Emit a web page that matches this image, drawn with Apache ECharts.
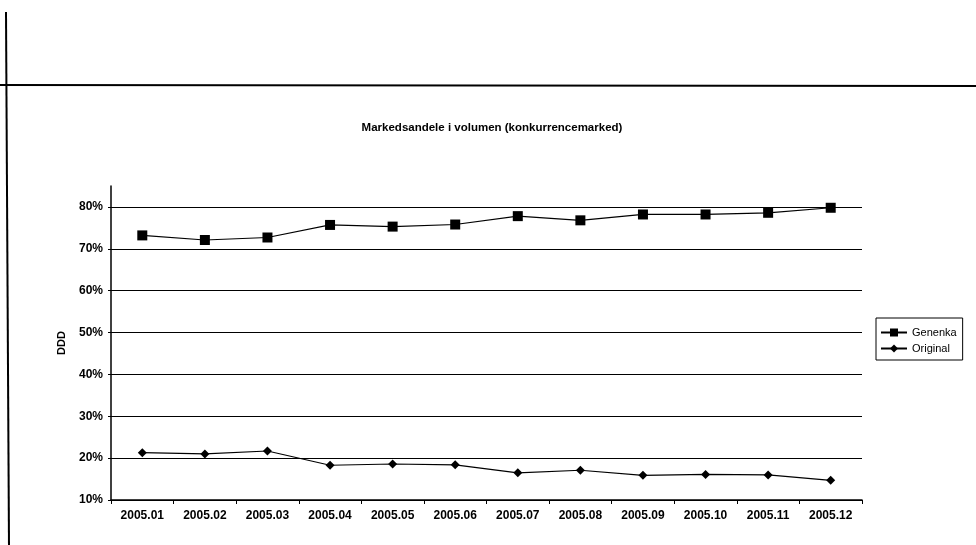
<!DOCTYPE html>
<html>
<head>
<meta charset="utf-8">
<script src="https://cdn.jsdelivr.net/npm/echarts@6/dist/echarts.min.js"></script>
<style>
  html, body { margin: 0; padding: 0; background: #fff; }
  #chart { width: 976px; height: 545px; }
</style>
</head>
<body>
<div id="chart"></div>
<script>
const months = ['2005.01','2005.02','2005.03','2005.04','2005.05','2005.06',
                '2005.07','2005.08','2005.09','2005.10','2005.11','2005.12'];
const genenka = [73.2, 72.1, 72.7, 75.7, 75.3, 75.8, 77.8, 76.8, 78.2, 78.2, 78.6, 79.8];
const original = [21.3, 21.0, 21.7, 18.3, 18.6, 18.4, 16.5, 17.1, 15.9, 16.1, 16.0, 14.7];

const myChart = echarts.init(document.getElementById('chart'));
const font = 'Liberation Sans, Arial, sans-serif';

const option = {
  animation: false,
  backgroundColor: '#fff',
  title: {
    text: 'Markedsandele i volumen (konkurrencemarked)',
    left: 487,
    top: 117,
    textAlign: 'center',
    textStyle: { fontFamily: font, fontSize: 11.5, fontWeight: 'bold', color: '#000' }
  },
  legend: {
    orient: 'vertical',
    left: 876,
    top: 318,
    itemWidth: 26,
    itemHeight: 10,
    itemGap: 5,
    padding: [9, 6, 6, 4],
    borderColor: '#000',
    borderWidth: 1,
    textStyle: { fontFamily: font, fontSize: 11, color: '#000' },
    data: ['Genenka', 'Original']
  },
  grid: { left: 111, right: 114, top: 186, bottom: 45 },
  xAxis: {
    type: 'category',
    data: months,
    boundaryGap: true,
    axisLine: { lineStyle: { color: '#000', width: 1.5 } },
    axisTick: { show: true, inside: false, length: 4, lineStyle: { color: '#000' } },
    axisLabel: { fontFamily: font, fontSize: 12, fontWeight: 'bold', color: '#000', margin: 10 }
  },
  yAxis: {
    type: 'value',
    min: 10,
    max: 85,
    interval: 10,
    name: 'DDD',
    nameLocation: 'middle',
    nameGap: 44,
    nameRotate: 90,
    nameTextStyle: { fontFamily: font, fontSize: 11, fontWeight: 'bold', color: '#000' },
    axisLine: { show: true, lineStyle: { color: '#000', width: 1.5 } },
    axisTick: { show: true, length: 3, lineStyle: { color: '#000' } },
    axisLabel: {
      fontFamily: font, fontSize: 12, fontWeight: 'bold', color: '#000', margin: 8,
      showMaxLabel: false,
      formatter: v => v + '%'
    },
    splitLine: { show: true, showMaxLine: false, lineStyle: { color: '#000', width: 1.2 } }
  },
  series: [
    {
      name: 'Genenka',
      type: 'line',
      data: genenka,
      symbol: 'rect',
      symbolSize: 10,
      showAllSymbol: true,
      itemStyle: { color: '#000' },
      lineStyle: { color: '#000', width: 1.2 }
    },
    {
      name: 'Original',
      type: 'line',
      data: original,
      symbol: 'diamond',
      symbolSize: 9,
      showAllSymbol: true,
      itemStyle: { color: '#000' },
      lineStyle: { color: '#000', width: 1.2 }
    }
  ],
  graphic: [
    { type: 'line', shape: { x1: 0, y1: 85, x2: 976, y2: 86 }, style: { stroke: '#000', lineWidth: 2 } },
    { type: 'line', shape: { x1: 6, y1: 12, x2: 9, y2: 545 }, style: { stroke: '#000', lineWidth: 2 } }
  ]
};

myChart.setOption(option, true);
</script>
</body>
</html>
